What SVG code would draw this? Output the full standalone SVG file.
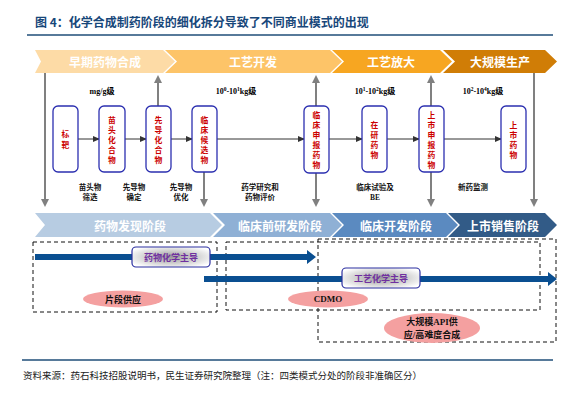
<svg xmlns="http://www.w3.org/2000/svg" width="588" height="400" viewBox="0 0 588 400">
<defs>
<style>
.cjk{font-family:"Noto Sans CJK SC","Noto Sans",sans-serif;font-weight:bold}
.ser{font-family:"Liberation Serif","Noto Sans CJK SC",serif;font-weight:bold}
.chev{font-family:"Noto Sans CJK SC",sans-serif;font-weight:bold;fill:#fff;font-size:12px;text-anchor:middle;dominant-baseline:central}
.box{fill:#fff;stroke:#2B2FB0;stroke-width:1.3}
.btxt{font-family:"Noto Sans CJK SC",sans-serif;font-weight:bold;fill:#CC0000;font-size:7.8px;text-anchor:middle;dominant-baseline:central}
.lbl{font-family:"Noto Sans CJK SC",sans-serif;font-weight:bold;fill:#111;font-size:7.5px;text-anchor:middle;dominant-baseline:central}
.gv{stroke:#808080;stroke-width:2;fill:none}
.hz{stroke:#333;stroke-width:1;fill:none}
.dash{fill:none;stroke:#111;stroke-width:1;stroke-dasharray:4,3}
.ell{fill:#F4A0A0}
.tag{fill:url(#gg);stroke:#2B2FA0;stroke-width:1.2}
.tagt{font-family:"Noto Sans CJK SC",sans-serif;font-weight:bold;fill:#7030A0;font-size:9px;text-anchor:middle;dominant-baseline:central}
</style>
<radialGradient id="gg" cx="0.5" cy="0.5" r="0.6">
<stop offset="0" stop-color="#9A9A9A"/>
<stop offset="1" stop-color="#FFFFFF"/>
</radialGradient>
<marker id="ga" markerWidth="4" markerHeight="4" refX="3" refY="2" orient="auto" markerUnits="strokeWidth">
<path d="M0,0 L4,2 L0,4 Z" fill="#808080"/>
</marker>
<marker id="ha" markerWidth="7" markerHeight="6" refX="6" refY="3" orient="auto" markerUnits="userSpaceOnUse">
<path d="M0,0 L7,3 L0,6 Z" fill="#333"/>
</marker>
</defs>
<rect width="588" height="400" fill="#fff"/>

<g id="title">
<text x="35" y="27" class="cjk" font-size="12" fill="#17477A">图 4：化学合成制药阶段的细化拆分导致了不同商业模式的出现</text>
<line x1="27" y1="35" x2="553" y2="35" stroke="#1F4E79" stroke-width="1.5"/>
</g>

<g id="top-chevrons">
<polygon points="35,50 163,50 175,61.5 163,73 35,73 41,61.5" fill="#FDDBA6"/>
<text x="105" y="61.5" class="chev">早期药物合成</text>
<polygon points="165,50 330,50 342,61.5 330,73 165,73 177,61.5" fill="#FDC468"/>
<text x="253" y="61.5" class="chev">工艺开发</text>
<polygon points="332,50 440,50 452,61.5 440,73 332,73 344,61.5" fill="#F7A621"/>
<text x="391" y="61.5" class="chev">工艺放大</text>
<polygon points="443,50 545,50 557,61.5 545,73 443,73 455,61.5" fill="#D07D06"/>
<text x="500" y="61.5" class="chev">大规模生产</text>
</g>

<g id="bottom-chevrons">
<polygon points="35,213 210,213 222,225 210,237 35,237 45,225" fill="#B7CCE2"/>
<text x="130" y="225" class="chev">药物发现阶段</text>
<polygon points="213,213 330,213 342,225 330,237 213,237 225,225" fill="#8FB0D5"/>
<text x="280" y="225" class="chev">临床前研发阶段</text>
<polygon points="332,213 446,213 458,225 446,237 332,237 344,225" fill="#5B8AC0"/>
<text x="396" y="225" class="chev">临床开发阶段</text>
<polygon points="448,213 545,213 557,225 545,237 448,237 460,225" fill="#325B87"/>
<text x="503" y="225" class="chev">上市销售阶段</text>
</g>

<g id="scales">
<text x="102" y="94" class="ser" font-size="8" text-anchor="middle">mg/g级</text>
<text x="236" y="94" class="ser" font-size="8" text-anchor="middle">10<tspan font-size="5.5" dy="-3">0</tspan><tspan dy="3">-10</tspan><tspan font-size="5.5" dy="-3">1</tspan><tspan dy="3">kg级</tspan></text>
<text x="375" y="94" class="ser" font-size="8" text-anchor="middle">10<tspan font-size="5.5" dy="-3">1</tspan><tspan dy="3">-10</tspan><tspan font-size="5.5" dy="-3">2</tspan><tspan dy="3">kg级</tspan></text>
<text x="483" y="94" class="ser" font-size="8" text-anchor="middle">10<tspan font-size="5.5" dy="-3">2</tspan><tspan dy="3">-10</tspan><tspan font-size="5.5" dy="-3">4</tspan><tspan dy="3">kg级</tspan></text>
</g>

<g id="connectors">
<line x1="45" y1="73" x2="45" y2="205" class="gv" marker-end="url(#ga)"/>
<line x1="158" y1="106" x2="158" y2="77" class="gv" marker-end="url(#ga)"/>
<line x1="204" y1="172" x2="204" y2="205" class="gv" marker-end="url(#ga)"/>
<line x1="316" y1="106" x2="316" y2="77" class="gv" marker-end="url(#ga)"/>
<line x1="316" y1="173" x2="316" y2="205" class="gv" marker-end="url(#ga)"/>
<line x1="431" y1="106" x2="431" y2="77" class="gv" marker-end="url(#ga)"/>
<line x1="431" y1="172" x2="431" y2="205" class="gv" marker-end="url(#ga)"/>
<line x1="534" y1="73" x2="534" y2="205" class="gv" marker-end="url(#ga)"/>
<line x1="78" y1="139" x2="99" y2="139" class="hz" marker-end="url(#ha)"/>
<line x1="125" y1="139" x2="146" y2="139" class="hz" marker-end="url(#ha)"/>
<line x1="171" y1="139" x2="192" y2="139" class="hz" marker-end="url(#ha)"/>
<line x1="217" y1="139" x2="304" y2="139" class="hz" marker-end="url(#ha)"/>
<line x1="329" y1="139" x2="362" y2="139" class="hz" marker-end="url(#ha)"/>
<line x1="387" y1="139" x2="419" y2="139" class="hz" marker-end="url(#ha)"/>
<line x1="444" y1="139" x2="501" y2="139" class="hz" marker-end="url(#ha)"/>
</g>

<g id="node-target">
<rect x="53" y="106" width="25" height="66" rx="5" class="box"/>
<text class="btxt"><tspan x="65.5" y="133">标</tspan><tspan x="65.5" y="144">靶</tspan></text>
</g>
<g id="node-hit">
<rect x="99" y="106" width="26" height="66" rx="5" class="box"/>
<text class="btxt"><tspan x="112" y="119">苗</tspan><tspan x="112" y="129">头</tspan><tspan x="112" y="139">化</tspan><tspan x="112" y="149">合</tspan><tspan x="112" y="159">物</tspan></text>
</g>
<g id="node-lead">
<rect x="146" y="106" width="25" height="66" rx="5" class="box"/>
<text class="btxt"><tspan x="158.5" y="119">先</tspan><tspan x="158.5" y="129">导</tspan><tspan x="158.5" y="139">化</tspan><tspan x="158.5" y="149">合</tspan><tspan x="158.5" y="159">物</tspan></text>
</g>
<g id="node-candidate">
<rect x="192" y="106" width="25" height="66" rx="5" class="box"/>
<text class="btxt"><tspan x="204.5" y="119">临</tspan><tspan x="204.5" y="129">床</tspan><tspan x="204.5" y="139">候</tspan><tspan x="204.5" y="149">选</tspan><tspan x="204.5" y="159">物</tspan></text>
</g>
<g id="node-ind">
<rect x="304" y="106" width="25" height="67" rx="5" class="box"/>
<text class="btxt"><tspan x="316.5" y="114">临</tspan><tspan x="316.5" y="124">床</tspan><tspan x="316.5" y="134">申</tspan><tspan x="316.5" y="144">报</tspan><tspan x="316.5" y="154">药</tspan><tspan x="316.5" y="164">物</tspan></text>
</g>
<g id="node-inresearch">
<rect x="362" y="106" width="25" height="66" rx="5" class="box"/>
<text class="btxt"><tspan x="374.5" y="124">在</tspan><tspan x="374.5" y="134">研</tspan><tspan x="374.5" y="144">药</tspan><tspan x="374.5" y="154">物</tspan></text>
</g>
<g id="node-nda">
<rect x="419" y="106" width="25" height="66" rx="5" class="box"/>
<text class="btxt"><tspan x="431.5" y="114">上</tspan><tspan x="431.5" y="124">市</tspan><tspan x="431.5" y="134">申</tspan><tspan x="431.5" y="144">报</tspan><tspan x="431.5" y="154">药</tspan><tspan x="431.5" y="164">物</tspan></text>
</g>
<g id="node-marketed">
<rect x="501" y="106" width="25" height="66" rx="5" class="box"/>
<text class="btxt"><tspan x="513.5" y="124">上</tspan><tspan x="513.5" y="134">市</tspan><tspan x="513.5" y="144">药</tspan><tspan x="513.5" y="154">物</tspan></text>
</g>

<g id="step-labels">
<text class="lbl"><tspan x="90" y="186">苗头物</tspan><tspan x="90" y="196">筛选</tspan></text>
<text class="lbl"><tspan x="134" y="186">先导物</tspan><tspan x="134" y="196">确定</tspan></text>
<text class="lbl"><tspan x="181" y="186">先导物</tspan><tspan x="181" y="196">优化</tspan></text>
<text class="lbl"><tspan x="260" y="186">药学研究和</tspan><tspan x="260" y="196">药物评价</tspan></text>
<text class="lbl"><tspan x="375" y="186">临床试验及</tspan><tspan x="375" y="197" font-family="Liberation Serif">BE</tspan></text>
<text class="lbl"><tspan x="473" y="186">新药监测</tspan></text>
</g>

<g id="modes">
<rect x="33" y="242" width="184" height="70" class="dash"/>
<rect x="226" y="242" width="314" height="68" class="dash"/>
<rect x="318" y="239" width="238" height="103" class="dash"/>
<polygon points="35,254 307,254 307,250 316,257 307,264 307,260 35,260" fill="#0A4F91"/>
<polygon points="204,276 548,276 548,272 557,279 548,286 548,282 204,282" fill="#0A4F91"/>
<rect x="132" y="247" width="78" height="20" rx="4" class="tag"/>
<text x="171" y="257" class="tagt">药物化学主导</text>
<rect x="342" y="268" width="78" height="20" rx="4" class="tag"/>
<text x="381" y="278" class="tagt">工艺化学主导</text>
<ellipse cx="123" cy="299" rx="40" ry="8.5" class="ell"/>
<text x="123" y="299" class="cjk" font-size="9" text-anchor="middle" dominant-baseline="central" fill="#111">片段供应</text>
<ellipse cx="328" cy="299" rx="40" ry="8.5" class="ell"/>
<text x="328" y="299" class="ser" font-size="9" text-anchor="middle" dominant-baseline="central" fill="#111">CDMO</text>
<ellipse cx="432" cy="328" rx="48" ry="15" class="ell"/>
<text class="ser" font-size="9" text-anchor="middle" dominant-baseline="central" fill="#111"><tspan x="432" y="322">大规模API供</tspan><tspan x="432" y="335">应/高难度合成</tspan></text>
</g>

<g id="footer">
<line x1="22" y1="360" x2="553" y2="360" stroke="#1F4E79" stroke-width="1.5"/>
<text x="23" y="379" font-family="Noto Sans CJK SC,sans-serif" font-size="9.5" fill="#222">资料来源：药石科技招股说明书，民生证券研究院整理（注：四类模式分处的阶段非准确区分）</text>
</g>
</svg>
